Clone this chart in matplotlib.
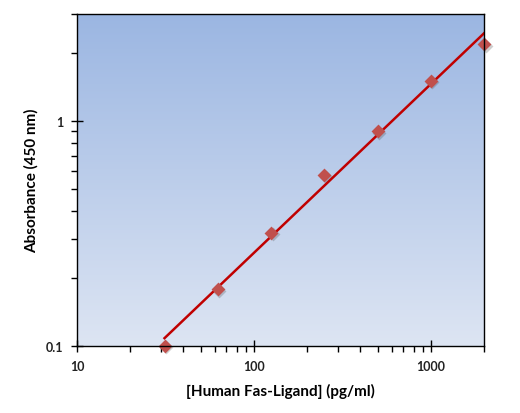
#!/usr/bin/env python3
"""Log-log standard curve: absorbance vs Human Fas-Ligand concentration."""

import numpy as np
import matplotlib
matplotlib.use("Agg")
import matplotlib.pyplot as plt
from matplotlib.colors import LinearSegmentedColormap
from matplotlib.transforms import ScaledTranslation
from matplotlib.ticker import FixedLocator, FixedFormatter, NullFormatter, LogLocator

CONC = [31.25, 62.5, 125, 250, 500, 1000, 2000]
ABS = [0.100, 0.179, 0.318, 0.575, 0.90, 1.51, 2.20]

X_TICKS = [10, 100, 1000]
X_LABELS = ["10", "100", "1000"]
Y_TICKS = [0.1, 1]
Y_LABELS = ["0.1", "1"]

plt.rcParams["font.family"] = ["Lato", "DejaVu Sans"]


def main():
    fig = plt.figure(figsize=(5.2, 4.14), dpi=100)
    ax = fig.add_axes([0.148, 0.162, 0.783, 0.802])

    # background gradient, light at bottom, blue at top
    cmap = LinearSegmentedColormap.from_list("bg", ["#dde5f3", "#9bb6e2"])
    grad = np.linspace(0, 1, 256).reshape(-1, 1)
    ax.imshow(grad, cmap=cmap, aspect="auto", origin="lower",
              extent=[0, 1, 0, 1], transform=ax.transAxes, zorder=0)

    # power fit in log space
    lx, ly = np.log10(CONC), np.log10(ABS)
    slope, icpt = np.polyfit(lx, ly, 1)
    xs = np.logspace(np.log10(CONC[0]), np.log10(2000), 100)
    ax.plot(xs, 10 ** (icpt + slope * np.log10(xs)), color="#c00000",
            linewidth=1.8, zorder=3)

    # soft shadow then markers
    shift = ax.transData + ScaledTranslation(1.5 / 100, -1.5 / 100,
                                             fig.dpi_scale_trans)
    ax.scatter(CONC, ABS, marker="D", s=50, color="#404040", alpha=0.25,
               zorder=2, clip_on=False, linewidths=0, transform=shift)
    ax.scatter(CONC, ABS, marker="D", s=50, color="#c0504d", zorder=4,
               clip_on=False, linewidths=0)

    ax.set_xscale("log")
    ax.set_yscale("log")
    ax.set_xlim(10, 2000)
    ax.set_ylim(0.1, 3.0)

    ax.xaxis.set_major_locator(FixedLocator(X_TICKS))
    ax.xaxis.set_major_formatter(FixedFormatter(X_LABELS))
    ax.yaxis.set_major_locator(FixedLocator(Y_TICKS))
    ax.yaxis.set_major_formatter(FixedFormatter(Y_LABELS))
    ax.xaxis.set_minor_locator(LogLocator(base=10, subs=np.arange(2, 10)))
    ax.yaxis.set_minor_locator(LogLocator(base=10, subs=np.arange(2, 10)))
    ax.xaxis.set_minor_formatter(NullFormatter())
    ax.yaxis.set_minor_formatter(NullFormatter())

    ax.tick_params(which="major", direction="inout", length=8, width=1,
                   labelsize=9, pad=6)
    ax.tick_params(which="minor", direction="out", length=4, width=1)
    for lab in ax.get_xticklabels() + ax.get_yticklabels():
        lab.set_fontweight("bold")
        lab.set_color("#222222")

    for sp in ax.spines.values():
        sp.set_linewidth(1.0)
        sp.set_zorder(5)

    ax.set_xlabel("[Human Fas-Ligand] (pg/ml)", fontsize=11,
                  fontweight="bold", labelpad=8)
    ax.set_ylabel("Absorbance (450 nm)", fontsize=11,
                  fontweight="bold", labelpad=5)

    fig.savefig("out.png", dpi=100)


if __name__ == "__main__":
    main()
